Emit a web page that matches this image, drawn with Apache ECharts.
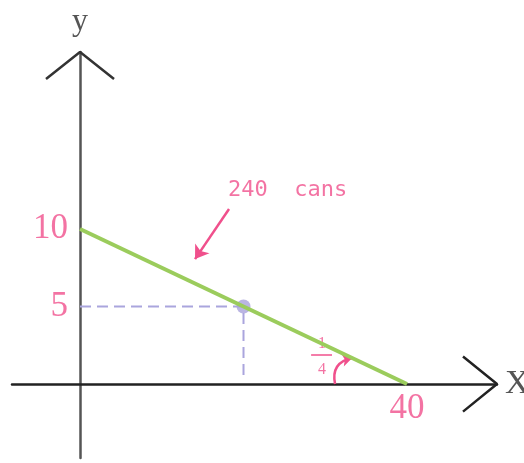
<!DOCTYPE html>
<html>
<head>
<meta charset="utf-8">
<script src="https://cdn.jsdelivr.net/npm/echarts@6/dist/echarts.min.js"></script>
<style>
  html, body { margin: 0; padding: 0; background: #fff; }
  #chart { width: 524px; height: 463px; }
</style>
</head>
<body>
<div id="chart"></div>
<script>
// demand line: y = 10 - x/4
var lineX = [0, 40];
var lineY = [10, 0];
var point = [20, 5];
var yTicks = [5, 10];
var xTicks = [40];
var calloutText = "240  cans";

var pink = "#f0508c";
var axisMin = { x: -8.32, y: -4.77 };
var axisMax = { x: 51.01, y: 21.42 };

var tickFont = { fontSize: 35, fontFamily: "Liberation Serif", color: pink };

var tickLabels = yTicks.map(function (v) {
    return { value: [0, v, String(v)], label: Object.assign({ position: "left", distance: 12 }, tickFont) };
}).concat(xTicks.map(function (v) {
    return { value: [v, 0, String(v)], label: Object.assign({ position: "bottom", distance: 7 }, tickFont) };
}));

var opt = {
    animation: false,
    grid: { left: 12, right: 27, top: 52, bottom: 5, outerBoundsMode: "none", containLabel: false },
    xAxis: {
        type: "value",
        min: axisMin.x,
        max: axisMax.x,
        name: "X",
        nameLocation: "end",
        nameGap: 8,
        nameTextStyle: { color: "#555", fontSize: 34, fontFamily: "Liberation Serif" },
        axisLine: { onZero: true, lineStyle: { color: "#222", width: 2.5 } },
        axisTick: { show: false },
        splitLine: { show: false },
        axisLabel: { show: false }
    },
    yAxis: {
        type: "value",
        min: axisMin.y,
        max: axisMax.y,
        name: "y",
        nameLocation: "end",
        nameGap: 14,
        nameTextStyle: { color: "#555", fontSize: 32, fontFamily: "Liberation Serif" },
        axisLine: { onZero: true, lineStyle: { color: "#555", width: 2.5 } },
        axisTick: { show: false },
        splitLine: { show: false },
        axisLabel: { show: false }
    },
    series: [
        {
            // x axis chevron
            type: "line",
            clip: false,
            symbol: "none",
            lineStyle: { color: "#222", width: 2.5 },
            data: [[46.85, 1.78], [axisMax.x, 0], [46.85, -1.78]]
        },
        {
            // y axis chevron
            type: "line",
            clip: false,
            symbol: "none",
            lineStyle: { color: "#333", width: 2.5 },
            data: [[-4.16, 19.68], [0, axisMax.y], [4.16, 19.68]]
        },
        {
            // dashed guides
            type: "line",
            symbol: "none",
            lineStyle: { color: "#aaa5dd", width: 2, type: [11, 6] },
            data: [[0, point[1]], [point[0], point[1]], [point[0], 0.25]]
        },
        {
            type: "line",
            symbol: "none",
            lineStyle: { color: "#9bcc5c", width: 4 },
            data: [[lineX[0], lineY[0]], [lineX[1], lineY[1]]]
        },
        {
            type: "scatter",
            symbolSize: 14,
            itemStyle: { color: "#a9a2db" },
            data: [point]
        },
        {
            // fraction bar
            type: "line",
            symbol: "none",
            lineStyle: { color: pink, width: 1.5 },
            data: [[28.27, 1.87], [30.83, 1.87]]
        },
        {
            // callout arrow + slope angle arc
            type: "lines",
            coordinateSystem: "cartesian2d",
            symbol: ["none", "arrow"],
            silent: true,
            lineStyle: { opacity: 1 },
            data: [
                { coords: [[18.23, 11.29], [14.07, 8.06]], symbolSize: 13,
                  lineStyle: { color: pink, width: 2.5, opacity: 1, curveness: 0 } },
                { coords: [[31.2, 0.0], [33.3, 1.68]], symbolSize: 10,
                  lineStyle: { color: pink, width: 2.5, opacity: 1, curveness: 0.5 } }
            ]
        },
        {
            type: "scatter",
            clip: false,
            symbolSize: 0,
            label: {
                show: true,
                position: "inside",
                color: pink,
                formatter: function (p) { return p.value[2]; }
            },
            data: [
                { value: [25.4, 12.5, calloutText], label: { fontSize: 22, fontFamily: "DejaVu Sans Mono" } },
                { value: [29.6, 2.6, "1"], label: { fontSize: 16, fontFamily: "Liberation Serif" } },
                { value: [29.6, 0.95, "4"], label: { fontSize: 16, fontFamily: "Liberation Serif" } }
            ].concat(tickLabels)
        }
    ]
};

echarts.init(document.getElementById("chart")).setOption(opt);
</script>
</body>
</html>
